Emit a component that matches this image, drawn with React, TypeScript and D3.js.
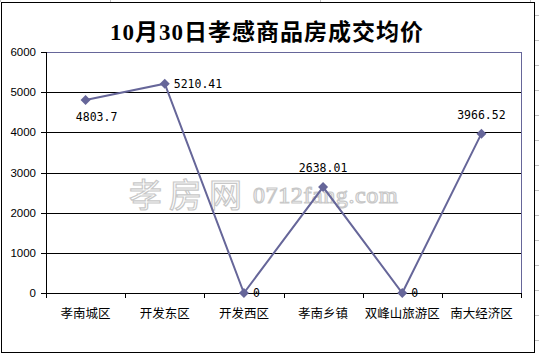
import React from "react";
import * as d3 from "d3";

const categories = ["孝南城区", "开发东区", "开发西区", "孝南乡镇", "双峰山旅游区", "南大经济区"];
const values = [4803.7, 5210.41, 0, 2638.01, 0, 3966.52];
const valueLabels = ["4803.7", "5210.41", "0", "2638.01", "0", "3966.52"];
const yTicks = [0, 1000, 2000, 3000, 4000, 5000, 6000];
const title = "10月30日孝感商品房成交均价";
const placement = ["belowRight", "right", "right", "above", "right", "above"];

const W = 539;
const H = 356;
const plot = { left: 46, right: 521, top: 52, bottom: 293 };
const lineColor = "#666699";

export default function App() {
  const x = d3.scaleBand<string>().domain(categories).range([plot.left, plot.right]);
  const y = d3.scaleLinear().domain([0, 6000]).range([plot.bottom, plot.top]);
  const cx = (c: string) => (x(c) ?? 0) + x.bandwidth() / 2;
  const pts: [number, number][] = categories.map((c, i) => [cx(c), y(values[i])]);
  const line = d3.line<[number, number]>()(pts) ?? "";
  const diamond = d3.symbol().type(d3.symbolSquare).size(50)() ?? "";
  const tickXs = categories.map((c) => x(c) ?? 0).concat([plot.right]);

  return (
    <svg
      width={W}
      height={H}
      style={{ position: "absolute", left: 0, top: 0, display: "block" }}
      shapeRendering="crispEdges"
    >
      <rect x={0} y={0} width={W} height={H} fill="#ffffff" />
      {[0, 110, 320, 530].map((gx, i) => (
        <line key={"cg" + i} x1={gx + 0.5} x2={gx + 0.5} y1={0} y2={2} stroke="#c0c0c0" />
      ))}
      {[15, 40, 65, 90, 115, 140, 165, 190, 215, 240, 265, 290, 315, 340].map((gy, i) => (
        <line key={"cr" + i} x1={535} x2={539} y1={gy + 0.5} y2={gy + 0.5} stroke="#c0c0c0" />
      ))}
      <rect x={1.5} y={2.5} width={533} height={350} fill="#ffffff" stroke="#000000" strokeWidth={1} />

      <text
        x={267}
        y={32}
        textAnchor="middle"
        dominantBaseline="central"
        fontFamily="'Liberation Serif', 'Noto Sans CJK SC', serif"
        fontWeight="bold"
        fontSize={23}
        letterSpacing={1}
        fill="#000000"
        shapeRendering="auto"
      >
        {title}
      </text>

      {yTicks.filter((t) => t > 0 && t < 6000).map((t) => (
        <line key={"g" + t} x1={plot.left} x2={plot.right} y1={Math.round(y(t)) + 0.5} y2={Math.round(y(t)) + 0.5} stroke="#000000" />
      ))}

      <g shapeRendering="auto" fill="#ffffff" stroke="#c8c8c8" strokeWidth={1.2}>
        <text x={129} y={193} dominantBaseline="central" fontFamily="'Noto Sans CJK SC', sans-serif" fontSize={33} letterSpacing={7}>
          孝房网
        </text>
        <text x={253} y={195} dominantBaseline="central" fontFamily="'Liberation Serif', serif" fontSize={24} letterSpacing={0.6}>
          0712fang.com
        </text>
      </g>

      <line x1={plot.left} x2={plot.right} y1={plot.top + 0.5} y2={plot.top + 0.5} stroke={lineColor} />
      <line x1={plot.right + 0.5} x2={plot.right + 0.5} y1={plot.top} y2={plot.bottom} stroke={lineColor} />

      <line x1={plot.left + 0.5} x2={plot.left + 0.5} y1={plot.top} y2={plot.bottom + 1} stroke="#000000" />
      {yTicks.map((t) => (
        <g key={"yt" + t}>
          <line x1={plot.left - 5} x2={plot.left} y1={Math.round(y(t)) + 0.5} y2={Math.round(y(t)) + 0.5} stroke="#000000" />
          <text
            x={36}
            y={y(t)}
            textAnchor="end"
            dominantBaseline="central"
            fontFamily="'Liberation Sans', Arial, sans-serif"
            fontSize={11.5}
            fill="#000000"
            shapeRendering="auto"
          >
            {t}
          </text>
        </g>
      ))}

      <line x1={plot.left} x2={plot.right + 1} y1={plot.bottom + 0.5} y2={plot.bottom + 0.5} stroke="#000000" />
      {tickXs.map((tx, i) => (
        <line key={"xt" + i} x1={Math.round(tx) + 0.5} x2={Math.round(tx) + 0.5} y1={plot.bottom} y2={plot.bottom + 5} stroke="#000000" />
      ))}
      {categories.map((c) => (
        <text
          key={"xl" + c}
          x={cx(c)}
          y={312}
          textAnchor="middle"
          dominantBaseline="central"
          fontFamily="'Noto Sans CJK SC', sans-serif"
          fontSize={12.5}
          fill="#000000"
          shapeRendering="auto"
        >
          {c}
        </text>
      ))}

      <path d={line} fill="none" stroke={lineColor} strokeWidth={2} shapeRendering="auto" />
      {pts.map((p, i) => (
        <path key={"m" + i} d={diamond} transform={`translate(${p[0]},${p[1]}) rotate(45)`} fill={lineColor} shapeRendering="auto" />
      ))}

      {pts.map((p, i) => {
        const pl = placement[i];
        let tx = p[0];
        let ty = p[1];
        let anchor: "start" | "middle" = "middle";
        if (pl === "right") {
          tx = p[0] + 9;
          anchor = "start";
        } else if (pl === "above") {
          ty = p[1] - 19;
        } else if (pl === "belowRight") {
          tx = p[0] + 11;
          ty = p[1] + 17;
        }
        return (
          <text
            key={"dl" + i}
            x={tx}
            y={ty}
            textAnchor={anchor}
            dominantBaseline="central"
            fontFamily="'DejaVu Sans Mono', 'Liberation Mono', monospace"
            fontSize={11.5}
            fill="#000000"
            shapeRendering="auto"
          >
            {valueLabels[i]}
          </text>
        );
      })}
    </svg>
  );
}
